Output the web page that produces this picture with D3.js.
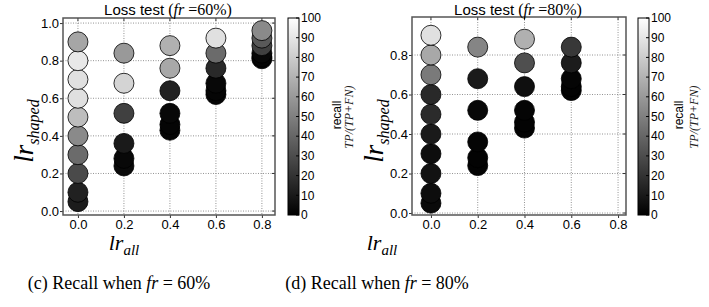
<!DOCTYPE html>
<html>
<head>
<meta charset="utf-8">
<script src="https://cdn.jsdelivr.net/npm/d3@7"></script>
<style>
  body { margin: 0; background: #fff; }
  svg { display: block; }
  .tick-label { font-family: "Liberation Sans", Arial, sans-serif; font-size: 13px; }
  .cb-label { font-family: "Liberation Sans", Arial, sans-serif; font-size: 12px; }
  .math { font-family: "Liberation Serif", "Times New Roman", serif; }
</style>
</head>
<body>
<svg width="709" height="307"></svg>
<script>
'use strict';

// lr_all tick values, lr_shaped tick values, colorbar ticks
var xTicks = [0.0, 0.2, 0.4, 0.6, 0.8];
var yTicks60 = [0.0, 0.2, 0.4, 0.6, 0.8, 1.0];
var yTicks80 = [0.0, 0.2, 0.4, 0.6, 0.8];
var recallTicks = [0, 10, 20, 30, 40, 50, 60, 70, 80, 90, 100];

// fr = 60%
var lrAll60 = [0, 0, 0, 0, 0, 0, 0, 0, 0, 0,
    0.2, 0.2, 0.2, 0.2, 0.2, 0.2,
    0.4, 0.4, 0.4, 0.4, 0.4, 0.4,
    0.6, 0.6, 0.6, 0.6, 0.6, 0.6,
    0.8, 0.8, 0.8, 0.8, 0.8, 0.8];
var lrShaped60 = [0.05, 0.1, 0.2, 0.3, 0.4, 0.5, 0.6, 0.7, 0.8, 0.9,
    0.24, 0.28, 0.36, 0.52, 0.68, 0.84,
    0.43, 0.46, 0.52, 0.64, 0.76, 0.88,
    0.62, 0.64, 0.68, 0.76, 0.84, 0.92,
    0.81, 0.82, 0.84, 0.88, 0.92, 0.96];
var recall60 = [11, 13, 29, 42, 54, 74, 88, 88, 91, 65,
    4, 3, 10, 25, 83, 60,
    2, 2, 3, 13, 66, 69,
    2, 2, 3, 16, 42, 88,
    2, 2, 3, 25, 35, 54];

// fr = 80%
var lrAll80 = [0, 0, 0, 0, 0, 0, 0, 0, 0, 0,
    0.2, 0.2, 0.2, 0.2, 0.2, 0.2,
    0.4, 0.4, 0.4, 0.4, 0.4, 0.4,
    0.6, 0.6, 0.6, 0.6, 0.6];
var lrShaped80 = [0.05, 0.1, 0.2, 0.3, 0.4, 0.5, 0.6, 0.7, 0.8, 0.9,
    0.24, 0.28, 0.36, 0.52, 0.68, 0.84,
    0.43, 0.46, 0.52, 0.64, 0.76, 0.88,
    0.62, 0.64, 0.68, 0.76, 0.84];
var recall80 = [4, 5, 7, 5, 10, 17, 16, 48, 66, 88,
    1, 1, 2, 3, 10, 52,
    1, 1, 2, 6, 31, 69,
    1, 1, 2, 11, 22];

var svg = d3.select('svg');
var gray = d3.scaleLinear().domain([0, 100]).range(['#000000', '#ffffff']);

// gradient for the colorbars
var grad = svg.append('defs').append('linearGradient')
    .attr('id', 'cbGrad')
    .attr('x1', 0).attr('y1', 1).attr('x2', 0).attr('y2', 0);
grad.append('stop').attr('offset', '0%').attr('stop-color', '#000');
grad.append('stop').attr('offset', '100%').attr('stop-color', '#fff');

function drawPanel(p) {
    var xScale = d3.scaleLinear().domain(p.xDomain).range([p.left, p.right]);
    var yScale = d3.scaleLinear().domain(p.yDomain).range([p.bottom, p.top]);
    var g = svg.append('g');

    // grid
    g.selectAll('.vgrid').data(xTicks).enter().append('line')
        .attr('x1', function (d) { return xScale(d); })
        .attr('x2', function (d) { return xScale(d); })
        .attr('y1', p.top).attr('y2', p.bottom)
        .attr('stroke', '#777').attr('stroke-width', 0.8)
        .attr('stroke-dasharray', '1,1.5');
    g.selectAll('.hgrid').data(p.yTicks).enter().append('line')
        .attr('y1', function (d) { return yScale(d); })
        .attr('y2', function (d) { return yScale(d); })
        .attr('x1', p.left).attr('x2', p.right)
        .attr('stroke', '#777').attr('stroke-width', 0.8)
        .attr('stroke-dasharray', '1,1.5');

    // points, drawn bottom up so the upper ones overlap
    var pts = p.xs.map(function (x, i) {
        return {x: x, y: p.ys[i], r: p.recall[i]};
    });
    pts.sort(function (a, b) { return a.y - b.y; });
    g.selectAll('circle').data(pts).enter().append('circle')
        .attr('cx', function (d) { return xScale(d.x); })
        .attr('cy', function (d) { return yScale(d.y); })
        .attr('r', 10)
        .attr('fill', function (d) { return gray(d.r); })
        .attr('stroke', '#000').attr('stroke-width', 0.8);

    // axes
    var xAxis = g.append('g').attr('transform', 'translate(0,' + p.bottom + ')')
        .call(d3.axisBottom(xScale).tickValues(xTicks).tickFormat(d3.format('.1f'))
            .tickSize(3).tickPadding(2));
    var yAxis = g.append('g').attr('transform', 'translate(' + p.left + ',0)')
        .call(d3.axisLeft(yScale).tickValues(p.yTicks).tickFormat(d3.format('.1f'))
            .tickSize(3).tickPadding(1));
    [xAxis, yAxis].forEach(function (a) {
        a.select('.domain').remove();
        a.selectAll('text').attr('class', 'tick-label').attr('fill', '#000');
        a.selectAll('line').attr('stroke', '#333');
    });
    // inner ticks on right and top
    g.selectAll('.rt').data(p.yTicks).enter().append('line')
        .attr('x1', p.right - 3).attr('x2', p.right)
        .attr('y1', function (d) { return yScale(d); })
        .attr('y2', function (d) { return yScale(d); })
        .attr('stroke', '#333');
    g.selectAll('.tt').data(xTicks).enter().append('line')
        .attr('y1', p.top).attr('y2', p.top + 3)
        .attr('x1', function (d) { return xScale(d); })
        .attr('x2', function (d) { return xScale(d); })
        .attr('stroke', '#333');

    g.append('rect')
        .attr('x', p.left).attr('y', p.top)
        .attr('width', p.right - p.left).attr('height', p.bottom - p.top)
        .attr('fill', 'none').attr('stroke', '#555').attr('stroke-width', 1.5);

    // title
    var title = g.append('text')
        .attr('x', (p.left + p.right) / 2 - 1).attr('y', 15)
        .attr('text-anchor', 'middle');
    title.append('tspan').attr('font-family', '"Liberation Sans", Arial, sans-serif')
        .attr('font-size', 15).text('Loss test ');
    title.append('tspan').attr('class', 'math').attr('font-size', 16).text('(');
    title.append('tspan').attr('class', 'math').attr('font-size', 16)
        .attr('font-style', 'italic').text('fr');
    title.append('tspan').attr('class', 'math').attr('font-size', 16)
        .text(' =' + p.fr + '%)');

    // y label
    var yl = g.append('text').attr('class', 'math')
        .attr('transform', 'translate(' + p.yLabelX + ',131) rotate(-90)')
        .attr('text-anchor', 'middle').attr('font-style', 'italic');
    yl.append('tspan').attr('font-size', 27).text('lr');
    yl.append('tspan').attr('font-size', 16).attr('dy', 6).text('shaped');

    // x label
    var xl = g.append('text').attr('class', 'math')
        .attr('x', p.xLabelX).attr('y', 250)
        .attr('text-anchor', 'middle').attr('font-style', 'italic');
    xl.append('tspan').attr('font-size', 22).text('lr');
    xl.append('tspan').attr('font-size', 15).attr('dy', 5).text('all');

    // colorbar
    var cScale = d3.scaleLinear().domain([0, 100]).range([p.bottom, 18]);
    g.append('rect')
        .attr('x', p.cbX).attr('y', 18)
        .attr('width', 11).attr('height', p.bottom - 18)
        .attr('fill', 'url(#cbGrad)').attr('stroke', '#000').attr('stroke-width', 1);
    g.selectAll('.cbt').data(recallTicks).enter().append('line')
        .attr('x1', p.cbX + 8).attr('x2', p.cbX + 11)
        .attr('y1', function (d) { return cScale(d); })
        .attr('y2', function (d) { return cScale(d); })
        .attr('stroke', '#000');
    g.selectAll('.cbl').data(recallTicks).enter().append('text')
        .attr('class', 'cb-label')
        .attr('x', p.cbX + 13)
        .attr('y', function (d) { return cScale(d); })
        .attr('dy', '0.35em')
        .text(function (d) { return d; });
    g.append('text')
        .attr('class', 'cb-label')
        .attr('transform', 'translate(' + p.recallX + ',115) rotate(-90)')
        .attr('text-anchor', 'middle').text('recall');
    g.append('text').attr('class', 'math')
        .attr('transform', 'translate(' + p.tpX + ',117) rotate(-90)')
        .attr('text-anchor', 'middle').attr('font-style', 'italic')
        .attr('font-size', 12).attr('fill', '#222')
        .text('TP/(TP+FN)');

    // caption
    var cap = g.append('text').attr('class', 'math')
        .attr('x', p.capX).attr('y', 289)
        .attr('text-anchor', 'middle').attr('font-size', 18);
    cap.append('tspan').text('(' + p.letter + ') Recall when ');
    cap.append('tspan').attr('font-style', 'italic').text('fr');
    cap.append('tspan').text(' = ' + p.fr + '%');
}

drawPanel({
    xs: lrAll60, ys: lrShaped60, recall: recall60, yTicks: yTicks60,
    xDomain: [-0.065, 0.857], yDomain: [-0.021, 1.027],
    left: 63, right: 275, top: 18, bottom: 215,
    yLabelX: 33, xLabelX: 124, cbX: 288, recallX: 341, tpX: 353,
    capX: 119, letter: 'c', fr: 60
});
drawPanel({
    xs: lrAll80, ys: lrShaped80, recall: recall80, yTicks: yTicks80,
    xDomain: [-0.081, 0.834], yDomain: [-0.01, 0.9924],
    left: 412, right: 626, top: 17, bottom: 215,
    yLabelX: 383, xLabelX: 382, cbX: 638, recallX: 683, tpX: 698,
    capX: 377, letter: 'd', fr: 80
});
</script>
</body>
</html>
